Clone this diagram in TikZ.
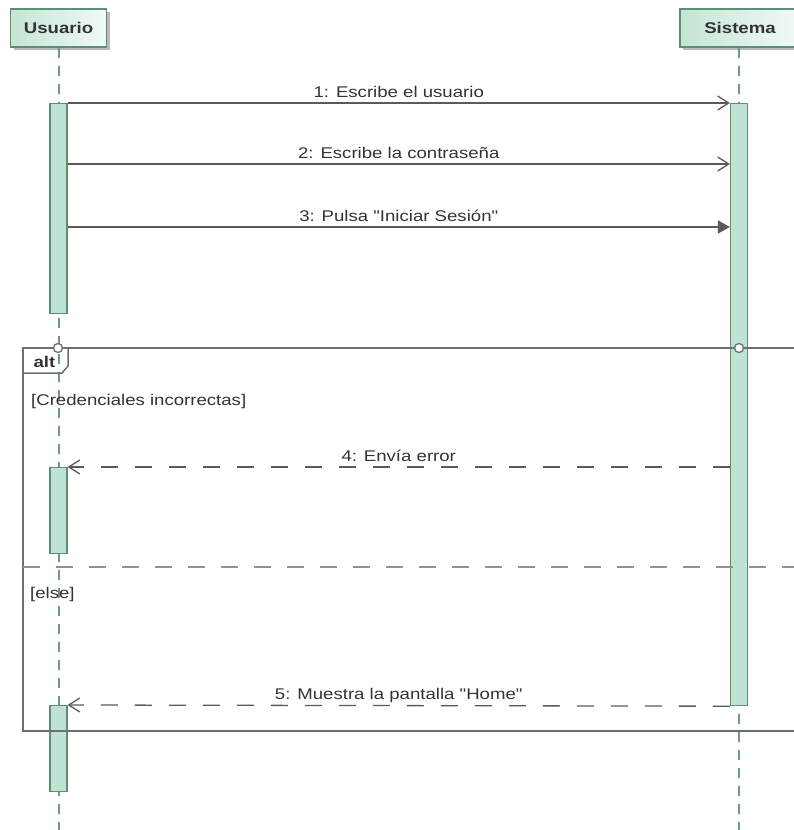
\documentclass[tikz,border=0pt]{standalone}
\usepackage{fontspec}
\setmainfont{Liberation Sans}[FakeStretch=1.2, Ligatures=TeXOff]
\usetikzlibrary{arrows.meta,shadows}

\definecolor{barfill}{HTML}{BFE3D3}
\definecolor{barline}{HTML}{5E8E76}
\definecolor{headleft}{HTML}{C4E5D5}
\definecolor{headright}{HTML}{F2FAF6}
\definecolor{lifecol}{HTML}{6F9888}
\definecolor{msgcol}{HTML}{5A5A5A}
\definecolor{framecol}{HTML}{6E6E6E}
\definecolor{txtcol}{HTML}{333333}

\begin{document}
\begin{tikzpicture}[x=1pt,y=-1pt,
  font=\fontsize{15.5}{18}\selectfont,
  head/.style={draw=barline, line width=1.2pt, left color=headleft, right color=headright,
    minimum height=38pt, inner sep=0pt, text=txtcol, font=\fontsize{15.5}{18}\selectfont\bfseries,
    drop shadow={shadow xshift=3pt, shadow yshift=-3pt, fill=black!45, opacity=.6}},
  lifeline/.style={draw=lifecol, line width=2pt, dash pattern=on 10pt off 8pt},
  actbar/.style={draw=barline, fill=barfill, line width=1.2pt, minimum width=17pt,
    inner sep=0pt, anchor=north},
  msg/.style={draw=msgcol, line width=1.3pt},
  reply/.style={msg, dash pattern=on 17pt off 17pt},
  openhead/.style={-{Straight Barb[length=11pt,width=14pt,line width=1.3pt]}},
  fullhead/.style={-{Triangle[length=12pt,width=13pt]}},
  lbl/.style={midway, anchor=base, yshift=6pt, text=txtcol, inner sep=0pt},
  frameline/.style={draw=framecol, line width=1.5pt},
  guard/.style={anchor=base west, text=txtcol, inner sep=0pt},
  joint/.style={circle, draw=framecol, fill=white, line width=1.3pt, minimum size=9pt, inner sep=0pt}]

\useasboundingbox (0,0) rectangle (794,830);

% participants
\node[head, minimum width=96pt] (usr) at (58.5,28) {Usuario};
\node[head, minimum width=120pt] (sys) at (740,28) {Sistema};

% lifelines
\draw[lifeline] (usr.south) -- (usr.south |- 0,830);
\draw[lifeline] (sys.south -| 739,0) -- (739,830);

% activation bars
\node[actbar, minimum height=210pt] (ua1) at (58.5,103) {};
\node[actbar, minimum height=602pt] (sa) at (739,103) {};
\node[actbar, minimum height=86pt] (ua2) at (58.5,467) {};
\node[actbar, minimum height=86pt] (ua3) at (58.5,705) {};

% combined fragment
\draw[frameline] (800,348) -- (23,348) -- (23,731) -- (800,731);
\draw[frameline] (23,373) -- (62,373) -- (68,366) -- (68,348);
\node[text=txtcol, font=\fontsize{15.5}{18}\selectfont\bfseries, anchor=base, inner sep=0pt] (altlbl) at (44.5,367) {alt};
\draw[framecol!75, line width=2pt, dash pattern=on 17pt off 16pt] (23,567) -- (800,567);
\node[guard] (g1) at (31,405) {[Credenciales incorrectas]};
\node[guard] (g2) at (30,598) {[else]};
\node[joint] (j1) at (58,348) {};
\node[joint] (j2) at (739,348) {};

% messages
\draw[msg, openhead] (ua1.north east) -- node[lbl] {1: Escribe el usuario} (sa.north west);
\draw[msg, openhead] (ua1.east |- 0,164) -- node[lbl] {2: Escribe la contraseña} (sa.west |- 0,164);
\draw[msg, fullhead] (ua1.east |- 0,227) -- node[lbl] {3: Pulsa "Iniciar Sesión"} (sa.west |- 0,227);
\draw[reply, openhead] (sa.west |- ua2.north) -- node[lbl] {4: Envía error} (ua2.north east);
\draw[reply, openhead] (sa.south west) -- node[lbl] {5: Muestra la pantalla "Home"} (ua3.north east);

\end{tikzpicture}
\end{document}
